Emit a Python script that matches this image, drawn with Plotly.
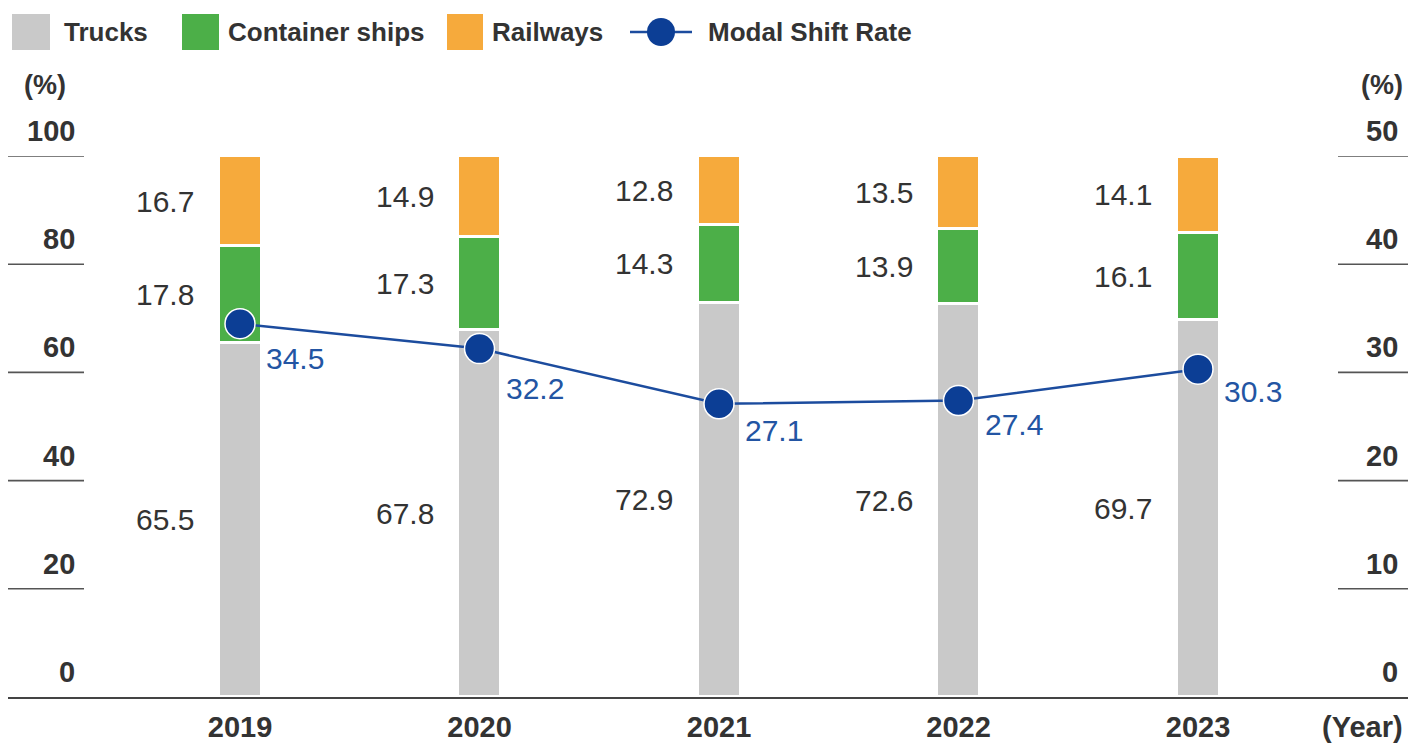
import plotly.graph_objects as go

# ---------------- data ----------------
years = ["2019", "2020", "2021", "2022", "2023"]
trucks = [65.5, 67.8, 72.9, 72.6, 69.7]
container_ships = [17.8, 17.3, 14.3, 13.9, 16.1]
railways = [16.7, 14.9, 12.8, 13.5, 14.1]
modal_shift_rate = [34.5, 32.2, 27.1, 27.4, 30.3]
left_ticks = [0, 20, 40, 60, 80, 100]
right_ticks = [0, 10, 20, 30, 40, 50]

# ---------------- style ----------------
OFF = 8                   # default page body margin in the browser
W, H = 1423 - OFF, 746 - OFF
PL, PR = 8, 1408          # plot area left/right (screen pixels)
PT, PB = 156, 697         # plot area top/bottom (screen pixels)
GRAY, GREEN, ORANGE = "#c9c9c9", "#4caf48", "#f6aa3c"
MARK, LINE, BLUE_TXT = "#0c3e95", "#1c4c9e", "#2355a3"
TXT = "#333333"
FONT = "Liberation Sans, Arial, Helvetica, sans-serif"
rate_label_dy = [-35, -40, -27, -24, -22]

step = 239.5
first = 240
xr = [(PL - first) / step, (PR - first) / step]
bar_w = 43 / step
xs = list(range(len(years)))


def px(x):
    return (x - PL) / (PR - PL)


def py(y):
    return (PB - y) / (PB - PT)


fig = go.Figure()
for name, vals, col in [("Trucks", trucks, GRAY),
                        ("Container ships", container_ships, GREEN),
                        ("Railways", railways, ORANGE)]:
    fig.add_trace(go.Bar(x=xs, y=vals, name=name, width=bar_w,
                         marker=dict(color=col, line=dict(color="white", width=3)),
                         hoverinfo="skip", showlegend=False))

fig.add_trace(go.Scatter(x=xs, y=modal_shift_rate, yaxis="y2", mode="lines+markers",
                         name="Modal Shift Rate",
                         line=dict(color=LINE, width=2.5),
                         marker=dict(size=30, color=MARK, line=dict(color="white", width=1.5)),
                         hoverinfo="skip", showlegend=False))

ann = []
shapes = []

# bar segment labels
for i in xs:
    base = 0
    for vals in (trucks, container_ships, railways):
        v = vals[i]
        ann.append(dict(x=i, y=base + v / 2, xref="x", yref="y", text=f"{v:.1f}",
                        showarrow=False, xanchor="right", yanchor="middle", xshift=-44,
                        font=dict(family=FONT, size=30, color=TXT)))
        base += v

# modal shift labels
for i in xs:
    v = modal_shift_rate[i]
    ann.append(dict(x=i, y=v, xref="x", yref="y2", text=f"{v:.1f}", showarrow=False,
                    xanchor="left", yanchor="middle", xshift=24, yshift=rate_label_dy[i],
                    font=dict(family=FONT, size=30, color=BLUE_TXT)))

# custom left/right axis ticks
for t in left_ticks:
    ann.append(dict(x=px(77), y=t, xref="paper", yref="y", text=str(t), showarrow=False,
                    xanchor="right", yanchor="middle", yshift=25,
                    font=dict(family=FONT, size=29, color=TXT, weight="bold")))
    if t > 0:
        shapes.append(dict(type="line", xref="paper", yref="y", x0=px(8), x1=px(84),
                           y0=t, y1=t, line=dict(color="#555555", width=1.6)))
for t in right_ticks:
    ann.append(dict(x=px(1400), y=t, xref="paper", yref="y2", text=str(t), showarrow=False,
                    xanchor="right", yanchor="middle", yshift=25,
                    font=dict(family=FONT, size=29, color=TXT, weight="bold")))
    if t > 0:
        shapes.append(dict(type="line", xref="paper", yref="y2", x0=px(1338), x1=px(1408),
                           y0=t, y1=t, line=dict(color="#555555", width=1.6)))

# unit labels
for xpix, txt in [(45, "(%)"), (1382, "(%)")]:
    ann.append(dict(x=px(xpix), y=py(85), xref="paper", yref="paper", text=txt,
                    showarrow=False, xanchor="center", yanchor="middle",
                    font=dict(family=FONT, size=27, color=TXT, weight="bold")))
ann.append(dict(x=px(1362), y=py(727), xref="paper", yref="paper", text="(Year)",
                showarrow=False, xanchor="center", yanchor="middle",
                font=dict(family=FONT, size=29, color=TXT, weight="bold")))

# custom legend
LY = 32
for x0, x1, col, txt, tx in [(12, 50, GRAY, "Trucks", 62),
                             (182, 219, GREEN, "Container ships", 226),
                             (447, 483, ORANGE, "Railways", 490)]:
    shapes.append(dict(type="rect", xref="paper", yref="paper", x0=px(x0), x1=px(x1),
                       y0=py(14), y1=py(50), fillcolor=col, line=dict(width=0)))
    ann.append(dict(x=px(tx), y=py(LY), xref="paper", yref="paper", text=txt, showarrow=False,
                    xanchor="left", yanchor="middle",
                    font=dict(family=FONT, size=26, color=TXT, weight="bold")))
shapes.append(dict(type="line", xref="paper", yref="paper", x0=px(630), x1=px(692),
                   y0=py(LY), y1=py(LY), line=dict(color=LINE, width=2.5)))
shapes.append(dict(type="circle", xref="paper", yref="paper", xsizemode="pixel",
                   ysizemode="pixel", xanchor=px(661), yanchor=py(LY),
                   x0=-14, x1=14, y0=-14, y1=14, fillcolor=MARK, line=dict(width=0)))
ann.append(dict(x=px(706), y=py(LY), xref="paper", yref="paper", text="Modal Shift Rate",
                showarrow=False, xanchor="left", yanchor="middle",
                font=dict(family=FONT, size=26, color=TXT, weight="bold")))

fig.update_layout(
    template="none",
    width=W, height=H,
    margin=dict(l=PL - OFF, r=W - (PR - OFF), t=PT - OFF, b=H - (PB - OFF), pad=0,
                autoexpand=False),
    paper_bgcolor="white", plot_bgcolor="white",
    barmode="stack", bargap=0,
    showlegend=False,
    xaxis=dict(range=xr, tickmode="array", tickvals=xs, ticktext=years, automargin=False,
               showgrid=False, zeroline=False, showline=True, linecolor="#444444",
               linewidth=2, ticks="outside", ticklen=3, tickcolor="rgba(0,0,0,0)",
               tickfont=dict(family=FONT, size=29, color=TXT, weight="bold")),
    yaxis=dict(range=[0, 100], showgrid=False, zeroline=False, showticklabels=False,
               showline=False, automargin=False),
    yaxis2=dict(range=[0, 50], overlaying="y", side="right", showgrid=False,
                zeroline=False, showticklabels=False, showline=False, automargin=False),
    annotations=ann, shapes=shapes,
)

fig.write_html("out.html")
